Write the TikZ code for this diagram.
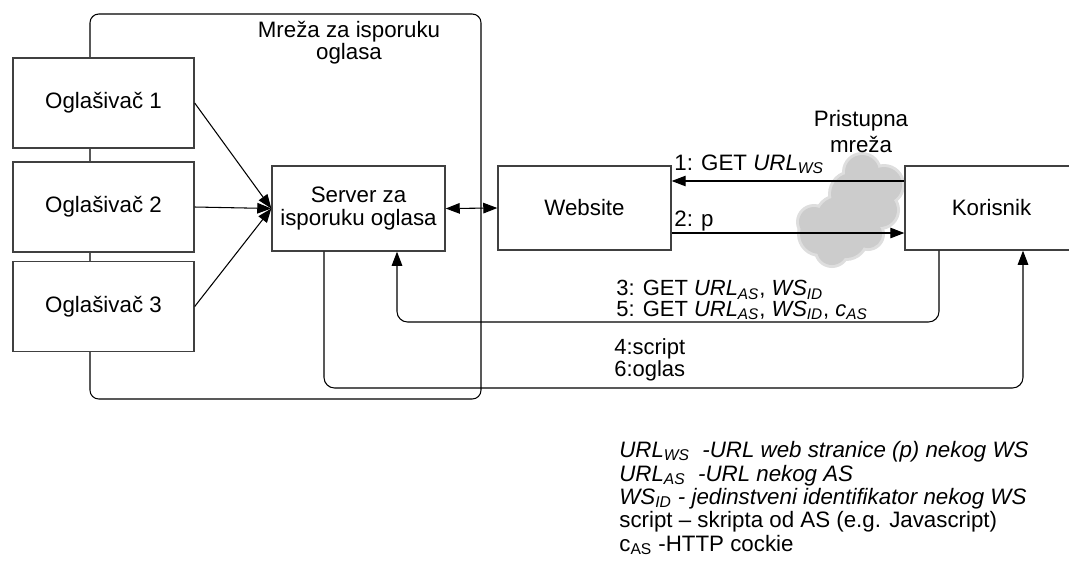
\documentclass[tikz,border=0pt]{standalone}
\usepackage{fontspec}
\setmainfont{Liberation Sans}
\usetikzlibrary{arrows.meta,positioning}
\tikzset{
  kutija/.style={draw=black!75, line width=0.8pt, fill=white, align=center, inner sep=2pt},
  veza/.style={line width=0.6pt, -{Triangle[length=8pt,width=6pt]}},
  dvoveza/.style={line width=0.6pt, {Triangle[length=8pt,width=6pt]}-{Triangle[length=8pt,width=6pt]}},
  oznaka/.style={anchor=base west, inner sep=0pt},
  dvored/.style={anchor=north west, inner sep=0pt, align=left, font=\fontsize{12.5}{11}\selectfont},
  oblak/.style={fill=black!20, draw=none},
  oblakrub/.style={fill=black!13, draw=none},
}
\begin{document}
\begin{tikzpicture}[x=0.02cm, y=-0.02cm, font=\fontsize{12.7}{13}\selectfont]
\useasboundingbox (0,0) rectangle (1069,562);

% Mreza za isporuku oglasa
\draw[line width=0.6pt, rounded corners=5pt] (90,14) rectangle (481,399);
\node[anchor=base] (mreza1) at (349,37) {Mreža za isporuku};
\node[anchor=base] (mreza2) at (349,59) {oglasa};

% Pristupna mreza (oblak)
\foreach \x/\y/\r in {862/172/0.34, 884/185/0.36, 852/194/0.42, 880/210/0.34, 862/214/0.4,
                      838/218/0.42, 820/234/0.4, 846/238/0.4, 832/250/0.3, 814/222/0.3, 868/234/0.28}
    \fill[oblakrub] (\x,\y) circle (\r cm + 0.06cm);
\foreach \x/\y/\r in {862/172/0.34, 884/185/0.36, 852/194/0.42, 880/210/0.34, 862/214/0.4,
                      838/218/0.42, 820/234/0.4, 846/238/0.4, 832/250/0.3, 814/222/0.3, 868/234/0.28}
    \fill[oblak] (\x,\y) circle (\r cm);
\node[anchor=base] (pm1) at (861,126) {Pristupna};
\node[anchor=base] (pm2) at (861,152) {mreža};

% Oglasivaci
\foreach \i/\y in {1/103, 2/207, 3/306.5}
    \node[kutija, minimum width=3.62cm, minimum height=1.8cm] (o\i) at (103.5,\y) {Oglašivač \i};

\node[kutija, minimum width=3.46cm, minimum height=1.7cm] (srv) at (358.5,208.5) {Server za\\isporuku oglasa};
\node[kutija, minimum width=3.46cm, minimum height=1.68cm] (web) at (584.5,208) {Website};
\node[kutija, minimum width=3.46cm, minimum height=1.68cm] (kor) at (991.5,208) {Korisnik};

% Veze
\foreach \i in {1,2,3}
    \draw[veza] (o\i.east) -- (srv.west);
\draw[dvoveza] (srv.east) -- (web.west);

\coordinate (g1) at (0,181);
\coordinate (g2) at (0,233);
\draw[veza] (kor.west |- g1) -- (web.east |- g1);
\draw[veza] (web.east |- g2) -- (kor.west |- g2);
\node[oznaka] (l1) at (674,170) {1: GET \textit{URL\textsubscript{WS}}};
\node[oznaka] (l2) at (674,226) {2: p};

\coordinate (k3) at (939,322);
\coordinate (s3) at (397,322);
\draw[veza, rounded corners=6pt] (kor.south -| k3) -- (k3) -- (s3) -- (srv.south -| s3);
\node[dvored] (l35) at (616,280) {3: GET \textit{URL\textsubscript{AS}}, \textit{WS\textsubscript{ID}}\\[0.6pt]
    5: GET \textit{URL\textsubscript{AS}}, \textit{WS\textsubscript{ID}}, \textit{c\textsubscript{AS}}};

\coordinate (s4) at (324,388);
\coordinate (k4) at (1023,388);
\draw[veza, rounded corners=6pt] (srv.south -| s4) -- (s4) -- (k4) -- (kor.south -| k4);
\node[dvored] (l46) at (614,338) {4:script\\6:oglas};

% Legenda
\node[oznaka] (leg1) at (619,457) {\textit{URL\textsubscript{WS}\ \ -URL web stranice (p) nekog WS}};
\node[oznaka] (leg2) at (619,481) {\textit{URL\textsubscript{AS}\ \ -URL nekog AS}};
\node[oznaka] (leg3) at (619,504) {\textit{WS\textsubscript{ID} - jedinstveni identifikator nekog WS}};
\node[oznaka] (leg4) at (619,527) {script -- skripta od AS (e.g. Javascript)};
\node[oznaka] (leg5) at (619,551) {c\textsubscript{AS} -HTTP cockie};
\end{tikzpicture}
\end{document}
